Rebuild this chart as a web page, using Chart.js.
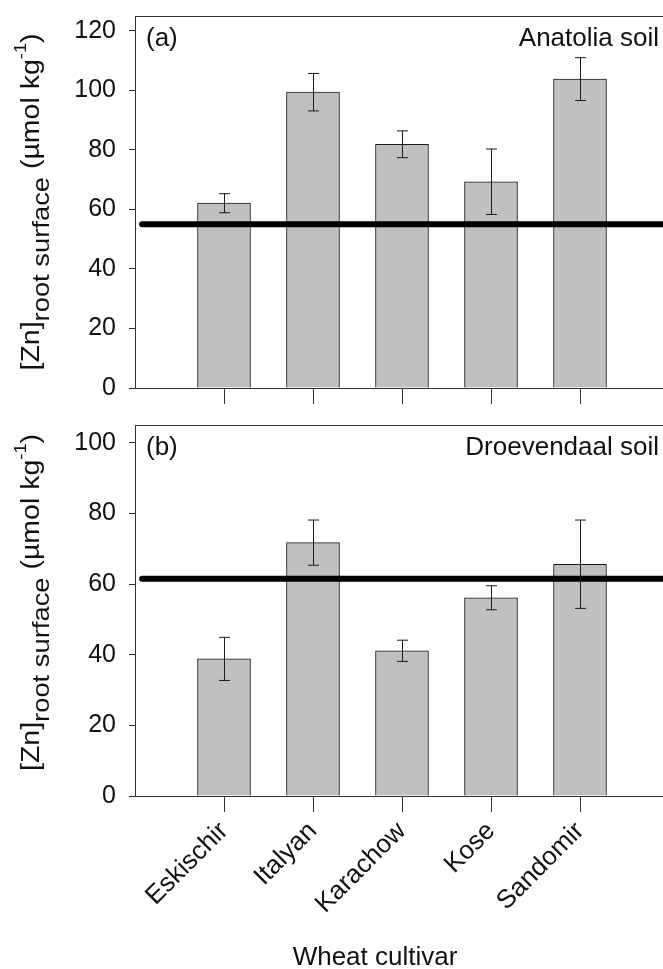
<!DOCTYPE html>
<html>
<head>
<meta charset="utf-8">
<script src="https://cdn.jsdelivr.net/npm/chart.js@4.4.0/dist/chart.umd.min.js"></script>
<style>
  html, body { margin: 0; padding: 0; background: #fff; overflow: hidden; width: 663px; height: 969px; }
  #boxA { position: absolute; left: 0; top: 0; width: 680px; height: 410px; }
  #boxB { position: absolute; left: 0; top: 410px; width: 680px; height: 564px; }
</style>
</head>
<body>
<div id="boxA"><canvas id="chartA"></canvas></div>
<div id="boxB"><canvas id="chartB"></canvas></div>
<script>
// dados
const cultivars = ['Eskischir', 'Italyan', 'Karachow', 'Kose', 'Sandomir'];
const cultivarPos = [1, 2, 3, 4, 5];
const anatoliaZn = [62.1, 99.4, 81.9, 69.3, 103.8];
const anatoliaErr = [3.2, 6.3, 4.5, 11.0, 7.2];
const anatoliaRef = 55;
const droevendaalZn = [38.8, 71.7, 41.1, 56.1, 65.6];
const droevendaalErr = [6.1, 6.4, 3.0, 3.4, 12.5];
const droevendaalRef = 61.5;
const refLineX = [0.08, 6];
const yTicksA = [0, 20, 40, 60, 80, 100, 120];
const yTicksB = [0, 20, 40, 60, 80, 100];

const FONT = '"Liberation Sans", Arial, sans-serif';
const AXIS = '#333';
const TEXT = '#111';

// desenha título do eixo y com subscrito e sobrescrito
function desenharTituloY(ctx, cx, cy) {
  const partes = [
    { t: '[Zn]', s: 25, dy: 0 },
    { t: 'root surface', s: 24, dy: 10 },
    { t: ' (\u00b5mol kg', s: 25, dy: 0 },
    { t: '-1', s: 16, dy: -13 },
    { t: ')', s: 25, dy: 0 }
  ];
  const estica = 1.14;
  ctx.save();
  ctx.translate(cx, cy);
  ctx.rotate(-Math.PI / 2);
  ctx.scale(estica, 1);
  let total = 0;
  partes.forEach(p => { ctx.font = p.s + 'px ' + FONT; p.w = ctx.measureText(p.t).width; total += p.w; });
  let x = -total / 2;
  ctx.fillStyle = TEXT;
  ctx.textBaseline = 'alphabetic';
  ctx.textAlign = 'left';
  partes.forEach(p => {
    ctx.font = p.s + 'px ' + FONT;
    ctx.fillText(p.t, x, p.dy);
    x += p.w;
  });
  ctx.restore();
}

const painelPlugin = {
  id: 'painel',
  afterDatasetsDraw(chart, args, opts) {
    const ctx = chart.ctx;
    const xs = chart.scales.x, ys = chart.scales.y;
    ctx.save();
    ctx.strokeStyle = '#1a1a1a';
    ctx.lineWidth = 1;
    for (let i = 0; i < opts.valores.length; i++) {
      const px = Math.round(xs.getPixelForValue(cultivarPos[i])) + 0.5;
      const top = ys.getPixelForValue(opts.valores[i] + opts.erros[i]);
      const bot = ys.getPixelForValue(opts.valores[i] - opts.erros[i]);
      ctx.beginPath();
      ctx.moveTo(px, top); ctx.lineTo(px, bot);
      ctx.moveTo(px - 5.5, top); ctx.lineTo(px + 5.5, top);
      ctx.moveTo(px - 5.5, bot); ctx.lineTo(px + 5.5, bot);
      ctx.stroke();
    }
    ctx.restore();
  },
  afterDraw(chart, args, opts) {
    const ctx = chart.ctx;
    const area = chart.chartArea;
    ctx.save();
    // borda superior
    ctx.strokeStyle = AXIS;
    ctx.lineWidth = 1;
    ctx.beginPath();
    ctx.moveTo(area.left, Math.round(area.top) + 0.5);
    ctx.lineTo(area.right, Math.round(area.top) + 0.5);
    ctx.stroke();
    // rótulos do painel
    ctx.fillStyle = TEXT;
    ctx.font = '26px ' + FONT;
    ctx.textBaseline = 'alphabetic';
    ctx.textAlign = 'left';
    ctx.fillText(opts.rotulo, area.left + 11, area.top + 30);
    ctx.textAlign = 'right';
    ctx.fillText(opts.solo, 659, area.top + 30);
    desenharTituloY(ctx, 39, (area.top + area.bottom) / 2 + opts.deslocTitulo);
    if (opts.tituloX) {
      ctx.textAlign = 'center';
      ctx.textBaseline = 'middle';
      ctx.font = '26px ' + FONT;
      ctx.fillText(opts.tituloX, 375, area.bottom + 162);
    }
    ctx.restore();
  }
};

function montarGrafico(id, valores, erros, ref, yMax, yTicks, opcoesPainel, alturaEixoX, mostrarNomes, topo) {
  const dadosBarras = cultivarPos.map((x, i) => ({ x: x, y: valores[i] }));
  const dadosLinha = refLineX.map(x => ({ x: x, y: ref }));
  return new Chart(document.getElementById(id), {
    type: 'bar',
    data: {
      datasets: [
        {
          type: 'line',
          data: dadosLinha,
          borderColor: '#000',
          borderWidth: 6,
          borderCapStyle: 'round',
          pointRadius: 0,
          order: 1
        },
        {
          data: dadosBarras,
          backgroundColor: '#c0c0c0',
          borderColor: '#1a1a1a',
          borderWidth: 1,
          barThickness: 53,
          order: 2
        }
      ]
    },
    options: {
      responsive: true,
      maintainAspectRatio: false,
      animation: false,
      layout: { padding: { top: topo, left: 0, right: 11, bottom: 0 } },
      plugins: {
        legend: { display: false },
        tooltip: { enabled: false },
        painel: opcoesPainel
      },
      scales: {
        x: {
          type: 'linear',
          min: 0,
          max: 6,
          offset: false,
          afterBuildTicks: s => { s.ticks = cultivarPos.map(v => ({ value: v })); },
          afterFit: s => { s.height = alturaEixoX; s.paddingLeft = 0; s.paddingRight = 0; },
          grid: { display: true, offset: false, drawOnChartArea: false, drawTicks: true, tickLength: 16, color: AXIS, lineWidth: 1 },
          border: { display: true, color: AXIS, width: 1 },
          ticks: {
            autoSkip: false,
            maxRotation: 45,
            minRotation: 45,
            padding: 4,
            color: TEXT,
            font: { family: FONT, size: 26 },
            callback: v => mostrarNomes ? cultivars[cultivarPos.indexOf(v)] : ''
          }
        },
        y: {
          min: 0,
          max: yMax,
          afterBuildTicks: s => { s.ticks = yTicks.map(v => ({ value: v })); },
          afterFit: s => { s.width = 135; s.paddingTop = 0; s.paddingBottom = 0; },
          grid: { display: true, drawOnChartArea: false, drawTicks: true, tickLength: 6, color: AXIS, lineWidth: 1 },
          border: { display: true, color: AXIS, width: 1 },
          ticks: {
            padding: 13,
            color: TEXT,
            font: { family: FONT, size: 25 }
          }
        }
      }
    },
    plugins: [painelPlugin]
  });
}

montarGrafico('chartA', anatoliaZn, anatoliaErr, anatoliaRef, 125, yTicksA,
  { rotulo: '(a)', solo: 'Anatolia soil', valores: anatoliaZn, erros: anatoliaErr, deslocTitulo: 0, tituloX: '' },
  22, false, 16);

montarGrafico('chartB', droevendaalZn, droevendaalErr, droevendaalRef, 105, yTicksB,
  { rotulo: '(b)', solo: 'Droevendaal soil', valores: droevendaalZn, erros: droevendaalErr, deslocTitulo: -8, tituloX: 'Wheat cultivar' },
  178, true, 15);
</script>
</body>
</html>
